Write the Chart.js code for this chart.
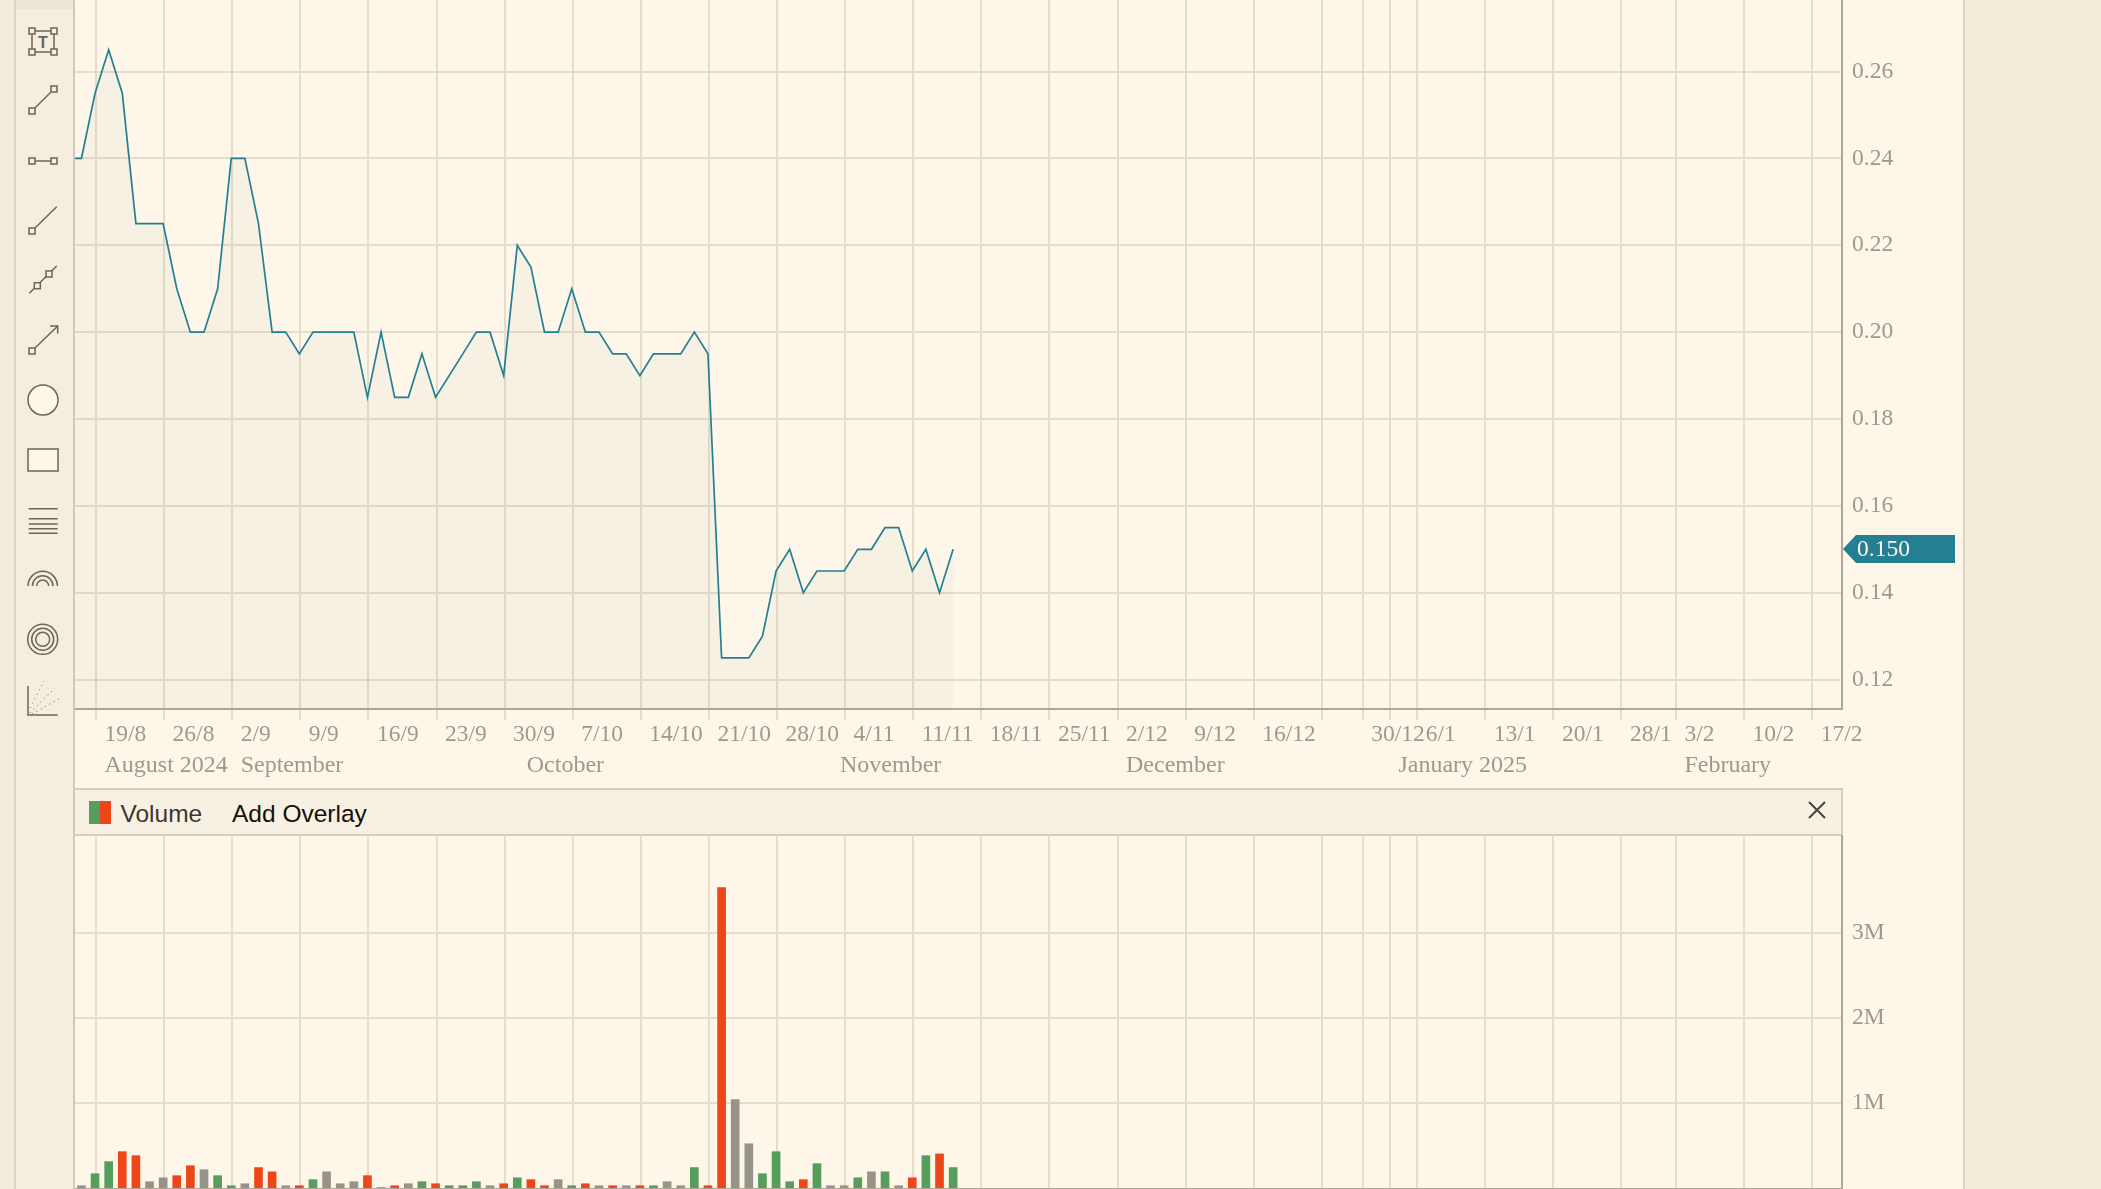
<!DOCTYPE html>
<html>
<head>
<meta charset="utf-8">
<title>Price and volume chart</title>
<script src="https://cdn.jsdelivr.net/npm/chart.js@4"></script>
<style>
  html, body { margin: 0; padding: 0; width: 2101px; height: 1189px; overflow: hidden; background: #fef6e9; }
  .abs { position: absolute; box-sizing: border-box; }
  canvas { position: absolute; display: block; }
</style>
</head>
<body>
<div class="abs" style="left:0;top:0;width:14px;height:1189px;background:#f4eddc"></div>
<div class="abs" style="left:14px;top:0;width:2px;height:1189px;background:#ddd5c3"></div>
<div class="abs" style="left:16px;top:0;width:58px;height:1189px;background:#f5eedf"></div>
<div class="abs" style="left:16px;top:0;width:58px;height:9px;background:#ece6d6"></div>
<div class="abs" style="left:73px;top:0;width:2px;height:1189px;background:#d2cab8"></div>
<div class="abs" style="left:1963px;top:0;width:2px;height:1189px;background:#ddd5c3"></div>
<div class="abs" style="left:1965px;top:0;width:136px;height:1189px;background:#f4edda"></div>

<svg class="abs" style="left:0;top:0" width="75" height="730" fill="none" stroke="#6b6458" stroke-width="1.5">
  <g fill="#f5eedf">
    <rect x="32" y="31" width="22" height="21"/>
    <rect x="29" y="28" width="6" height="6"/><rect x="51" y="28" width="6" height="6"/>
    <rect x="29" y="49" width="6" height="6"/><rect x="51" y="49" width="6" height="6"/>
    <line x1="35" y1="108" x2="51" y2="92"/>
    <rect x="29" y="108" width="6" height="6"/><rect x="51" y="86" width="6" height="6"/>
    <line x1="35" y1="161" x2="51" y2="161"/>
    <rect x="29" y="158" width="6" height="6"/><rect x="51" y="158" width="6" height="6"/>
    <line x1="35" y1="228" x2="56.7" y2="206.7"/>
    <rect x="29" y="228" width="6" height="6"/>
    <line x1="29.3" y1="293.3" x2="56.7" y2="266"/>
    <rect x="34.3" y="282.7" width="6" height="6"/><rect x="46" y="271" width="6" height="6"/>
    <line x1="35" y1="348" x2="57.7" y2="326"/>
    <polyline points="50,326 57.7,326 57.7,333.5" fill="none"/>
    <rect x="29" y="348" width="6" height="6"/>
    <circle cx="43" cy="400" r="15" fill="#fef6e9"/>
    <rect x="28" y="449" width="30" height="22" fill="#fef6e9"/>
  </g>
  <path d="M28.7 508.7H57.7M28.7 518.7H57.7M28.7 524H57.7M28.7 528.7H57.7M28.7 533.3H57.7"/>
  <path d="M28 586a14.7 14.7 0 0 1 29.4 0M32.4 586a10.3 10.3 0 0 1 20.6 0M36.7 586a6 6 0 0 1 12 0"/>
  <circle cx="42.7" cy="639.3" r="15"/><circle cx="42.7" cy="639.3" r="11"/><circle cx="42.7" cy="639.3" r="7"/>
  <polyline points="28,686 28,715 57.7,715"/>
  <g stroke-width="1" stroke-dasharray="1 4">
    <line x1="30" y1="713" x2="55" y2="688"/>
    <line x1="30" y1="708" x2="44" y2="681"/>
    <line x1="32" y1="714" x2="59" y2="699"/>
  </g>
  <text x="43" y="48" text-anchor="middle" font-family="'Liberation Sans',sans-serif" font-weight="700" font-size="16" fill="#6b6458" stroke="none">T</text>
</svg>

<div class="abs" style="left:75px;top:788px;width:1768px;height:48px;background:#f7f1e4;border-top:2px solid #d6cdba;border-bottom:2px solid #d6cdba;border-right:2px solid #d6cdba"></div>
<div class="abs" style="left:89px;top:801px;width:11px;height:23px;background:#559e5c"></div>
<div class="abs" style="left:100px;top:801px;width:11px;height:23px;background:#ed4619"></div>
<div class="abs" style="left:120.5px;top:800px;font:24.5px/28px 'Liberation Sans',sans-serif;color:#3d362d">Volume</div>
<div class="abs" style="left:232px;top:800px;font:24.5px/28px 'Liberation Sans',sans-serif;color:#15100a">Add Overlay</div>
<svg class="abs" style="left:1808px;top:801px" width="18" height="18" stroke="#4a433a" stroke-width="2"><path d="M1 1L17 17M17 1L1 17"/></svg>

<canvas id="priceChart" width="1888" height="788" style="left:75px;top:0"></canvas>
<canvas id="volumeChart" width="1888" height="354" style="left:75px;top:835px"></canvas>

<script>
// Trading days shown, in order; the array position is the x value on the axis.
const tradingDays = [
  '15/8','16/8','19/8','20/8','21/8','22/8','23/8','26/8','27/8','28/8','29/8','30/8',
  '2/9','3/9','4/9','5/9','6/9','9/9','10/9','11/9','12/9','13/9','16/9','17/9','18/9','19/9','20/9',
  '23/9','24/9','25/9','26/9','27/9','30/9','1/10','2/10','3/10','4/10','7/10','8/10','9/10','10/10','11/10',
  '14/10','15/10','16/10','17/10','18/10','21/10','22/10','23/10','24/10','25/10',
  '28/10','29/10','30/10','31/10','1/11','4/11','5/11','6/11','7/11','8/11','11/11','12/11','13/11','14/11'
];
const closePrices = [
  0.24,0.24,0.255,0.265,0.255,0.225,0.225,0.225,0.21,0.20,0.20,0.21,
  0.24,0.24,0.225,0.20,0.20,0.195,0.20,0.20,0.20,0.20,0.185,0.20,0.185,0.185,0.195,
  0.185,0.19,0.195,0.20,0.20,0.19,0.22,0.215,0.20,0.20,0.21,0.20,0.20,0.195,0.195,
  0.19,0.195,0.195,0.195,0.20,0.195,0.125,0.125,0.125,0.13,
  0.145,0.15,0.14,0.145,0.145,0.145,0.15,0.15,0.155,0.155,0.145,0.15,0.14,0.15
];
const volumes = [
  null,27000,168000,310000,427000,380000,74000,120000,145000,262000,215000,145000,
  27000,50000,240000,190000,27000,27000,98000,190000,50000,74000,145000,5000,27000,50000,74000,
  50000,27000,27000,74000,27000,50000,120000,98000,27000,98000,27000,50000,27000,27000,27000,
  27000,27000,74000,27000,240000,27000,3530000,1040000,520000,168000,
  427000,74000,98000,286000,27000,27000,120000,190000,190000,27000,120000,380000,400000,240000
];
const volumeDirections = [
  'n','n','g','g','r','r','n','n','r','r','n','g',
  'g','n','r','r','n','r','g','n','n','n','r','g','r','n','g',
  'r','g','g','g','n','r','g','r','r','n','g','r','n','r','n',
  'r','g','n','n','g','r','r','n','n','g',
  'g','g','r','g','n','n','g','n','g','n','r','g','r','g'
];
const weekTickPositions = [2,7,12,17,22,27,32,37,42,47,52,57,62,67,72,77,82,87,92,95,97,99,104,109,114,118,123,128];
const weekTickLabels = ['19/8','26/8','2/9','9/9','16/9','23/9','30/9','7/10','14/10','21/10','28/10','4/11','11/11','18/11','25/11','2/12','9/12','16/12','','30/12','','6/1','13/1','20/1','28/1','3/2','10/2','17/2'];
const monthTickPositions = [2,12,33,56,77,97,118];
const monthTickLabels = ['August 2024','September','October','November','December','January 2025','February'];
const priceTicks = [0.12,0.14,0.16,0.18,0.20,0.22,0.24,0.26];
const volumeTicks = [1000000,2000000,3000000];
const lastPrice = 0.150;

const COLORS = { g:'#559e5c', r:'#ed4619', n:'#96948a' };
const GRID = '#e5dcc9', AXIS = '#aea898', TEXT = '#9e998d', TEAL = '#257f93';
const SERIF = "'Liberation Serif', serif";
const X_MIN = 0.458, X_MAX = 130.19, RIGHT_GUTTER = 121;
// Marks sit a fraction of a trading day left of their gridline in the reference.
const MARK_SHIFT = -0.07;

function clearPadding(s){ s.paddingLeft = s.paddingRight = s.paddingTop = s.paddingBottom = 0; }
function fixWidth(w){ return s => { s.width = w; clearPadding(s); }; }
function fixHeight(h){ return s => { s.height = h; clearPadding(s); }; }
function setTicks(values){ return s => { s.ticks = values.map(value => ({ value })); }; }

const priceLabelPlugin = {
  id: 'priceLabel',
  afterDraw(chart) {
    const { ctx, scales: { y }, chartArea } = chart;
    const py = Math.round(y.getPixelForValue(lastPrice));
    const tip = chartArea.right + 1;
    ctx.save();
    ctx.fillStyle = TEAL;
    ctx.beginPath();
    ctx.moveTo(tip, py);
    ctx.lineTo(tip + 13, py - 14);
    ctx.lineTo(tip + 112, py - 14);
    ctx.lineTo(tip + 112, py + 14);
    ctx.lineTo(tip + 13, py + 14);
    ctx.closePath();
    ctx.fill();
    ctx.fillStyle = '#fef6e9';
    ctx.font = '23.5px ' + SERIF;
    ctx.textAlign = 'left';
    ctx.textBaseline = 'middle';
    ctx.fillText(lastPrice.toFixed(3), tip + 14, py + 1);
    ctx.restore();
  }
};

new Chart(document.getElementById('priceChart'), {
  type: 'line',
  data: { datasets: [{
    data: closePrices.map((y, i) => ({ x: i + MARK_SHIFT, y })),
    borderColor: TEAL, borderWidth: 1.7, pointRadius: 0, tension: 0,
    fill: 'start', backgroundColor: 'rgba(60,120,90,0.04)'
  }]},
  options: {
    responsive: false, animation: false, devicePixelRatio: 1,
    layout: { padding: 0 },
    plugins: { legend: { display: false }, tooltip: { enabled: false } },
    scales: {
      x: {
        type: 'linear', bounds: 'data', min: X_MIN, max: X_MAX, position: 'bottom', weight: 0,
        afterBuildTicks: setTicks(weekTickPositions), afterFit: fixHeight(41),
        grid: { color: GRID, lineWidth: 2, tickLength: 11, tickColor: GRID },
        border: { color: AXIS, width: 2 },
        ticks: {
          autoSkip: false, maxRotation: 0, minRotation: 0, align: 'start', labelOffset: 8.5, padding: 1,
          color: TEXT, font: { family: SERIF, size: 23.5 },
          callback: (v, i) => weekTickLabels[i]
        }
      },
      xMonth: {
        type: 'linear', axis: 'x', bounds: 'data', min: X_MIN, max: X_MAX, position: 'bottom', weight: 1,
        afterBuildTicks: setTicks(monthTickPositions), afterFit: fixHeight(38),
        grid: { display: false, drawTicks: false }, border: { display: false },
        ticks: {
          autoSkip: false, maxRotation: 0, minRotation: 0, align: 'start', labelOffset: 8.5, padding: 1,
          color: TEXT, font: { family: SERIF, size: 24 },
          callback: (v, i) => monthTickLabels[i]
        }
      },
      y: {
        type: 'linear', bounds: 'data', position: 'right', min: 0.11323, max: 0.27648,
        afterBuildTicks: setTicks(priceTicks), afterFit: fixWidth(RIGHT_GUTTER),
        grid: { color: GRID, lineWidth: 2, drawTicks: false },
        border: { color: AXIS, width: 2 },
        ticks: { padding: 10, color: TEXT, font: { family: SERIF, size: 23.5 }, callback: v => v.toFixed(2) }
      }
    }
  },
  plugins: [priceLabelPlugin]
});

new Chart(document.getElementById('volumeChart'), {
  type: 'bar',
  data: { datasets: [{
    data: volumes.map((y, i) => ({ x: i + MARK_SHIFT, y })),
    backgroundColor: volumeDirections.map(d => COLORS[d]),
    barThickness: 8, borderWidth: 0
  }]},
  options: {
    responsive: false, animation: false, devicePixelRatio: 1,
    layout: { padding: { bottom: 1 } },
    plugins: { legend: { display: false }, tooltip: { enabled: false } },
    scales: {
      x: {
        type: 'linear', bounds: 'data', offset: false, min: X_MIN, max: X_MAX, position: 'bottom',
        afterBuildTicks: setTicks(weekTickPositions), afterFit: fixHeight(0),
        grid: { color: GRID, lineWidth: 2, drawTicks: false, offset: false },
        border: { color: AXIS, width: 1 },
        ticks: { display: false }
      },
      y: {
        type: 'linear', bounds: 'data', position: 'right', min: 0, max: 4148000,
        afterBuildTicks: setTicks(volumeTicks), afterFit: fixWidth(RIGHT_GUTTER),
        grid: { color: GRID, lineWidth: 2, drawTicks: false },
        border: { color: AXIS, width: 2 },
        ticks: { padding: 10, color: TEXT, font: { family: SERIF, size: 23.5 }, callback: v => (v / 1000000) + 'M' }
      }
    }
  }
});
</script>
</body>
</html>
